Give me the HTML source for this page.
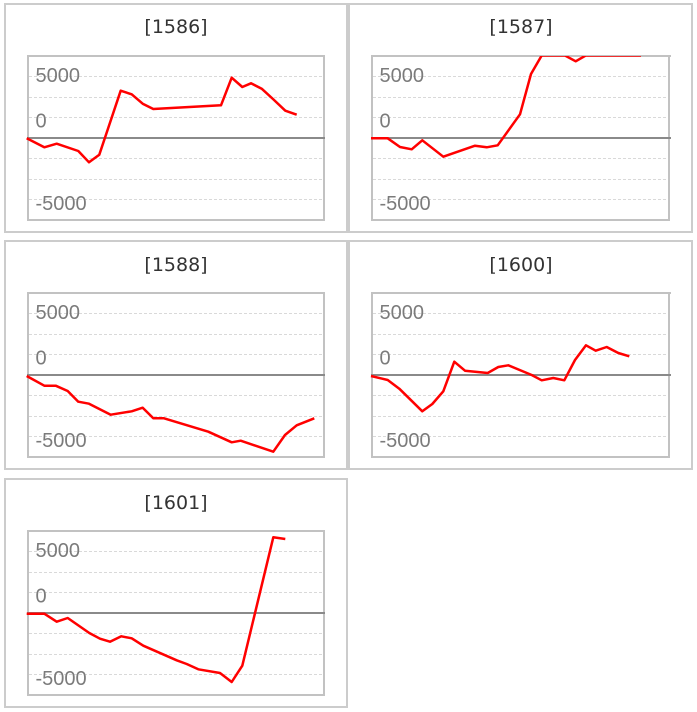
<!DOCTYPE html>
<html><head><meta charset="utf-8"><style>
html,body{margin:0;padding:0;background:#fff;}
svg{display:block;}
.ttl{font-family:"DejaVu Sans","Liberation Sans",sans-serif;font-size:19px;fill:#333;text-anchor:middle;}
.lbl{font-family:"Liberation Sans",sans-serif;font-size:20px;fill:#7b7b7b;}
.grid{stroke:#d9d9d9;stroke-width:1;stroke-dasharray:3,2;}
.ax{stroke:#8a8a8a;stroke-width:2;}
.pan{fill:none;stroke:#cccccc;stroke-width:2;}
.box{fill:none;stroke:#c2c2c2;stroke-width:2;}
.ser{fill:none;stroke:#ff0000;stroke-width:2.5;stroke-linejoin:round;}
</style></head><body>
<svg width="697" height="712" viewBox="0 0 697 712" xmlns="http://www.w3.org/2000/svg">
<defs>
<g id="fl">
<rect class="pan" x="5" y="4" width="342" height="228"/>
<line class="grid" x1="29" x2="323" y1="76.5" y2="76.5"/>
<line class="grid" x1="29" x2="323" y1="97.5" y2="97.5"/>
<line class="grid" x1="29" x2="323" y1="117.5" y2="117.5"/>
<line class="grid" x1="29" x2="323" y1="158.5" y2="158.5"/>
<line class="grid" x1="29" x2="323" y1="179.5" y2="179.5"/>
<line class="grid" x1="29" x2="323" y1="199.5" y2="199.5"/>
<rect class="box" x="28" y="56" width="296" height="164"/>
<line class="ax" x1="27" x2="325" y1="138" y2="138"/>
<text class="lbl" x="35.5" y="82">5000</text>
<text class="lbl" x="35.5" y="127.5">0</text>
<text class="lbl" x="35.5" y="210">-5000</text>
</g>
<g id="fr">
<rect class="pan" x="349" y="4" width="343" height="228"/>
<line class="grid" x1="373" x2="667" y1="76.5" y2="76.5"/>
<line class="grid" x1="373" x2="667" y1="97.5" y2="97.5"/>
<line class="grid" x1="373" x2="667" y1="117.5" y2="117.5"/>
<line class="grid" x1="373" x2="667" y1="158.5" y2="158.5"/>
<line class="grid" x1="373" x2="667" y1="179.5" y2="179.5"/>
<line class="grid" x1="373" x2="667" y1="199.5" y2="199.5"/>
<rect class="box" x="372" y="56" width="297" height="164"/>
<line class="box" x1="668" x2="671" y1="56" y2="56"/>
<line class="ax" x1="371" x2="671" y1="138" y2="138"/>
<text class="lbl" x="379.5" y="82">5000</text>
<text class="lbl" x="379.5" y="127.5">0</text>
<text class="lbl" x="379.5" y="210">-5000</text>
</g>
<clipPath id="c2"><rect x="360" y="56" width="320" height="170"/></clipPath>
</defs>

<!-- Row 1 -->
<use href="#fl"/>
<use href="#fr"/>
<text class="ttl" x="176" y="33">[1586]</text>
<text class="ttl" x="521" y="33">[1587]</text>
<polyline class="ser" points="26.7,138.3 44.3,147.3 56.7,143.7 78.3,151 89,162.3 99.3,154.7 120.7,90.7 131.7,94.3 142.7,103.7 153.3,109 221,105.3 231.7,77.7 242.3,87 251,83.3 261.7,88.7 273.5,99.5 285.3,110.7 296.7,114.7"/>
<polyline class="ser" clip-path="url(#c2)" points="371,138.3 387.7,138.3 400,147 411.7,149.3 422.3,140.3 443.3,156.7 475,145.7 486.7,147.3 497.7,145.3 520,114.3 531,74 541.7,55.5 565,55.5 575.7,61.3 585.7,55.5 641,55.5"/>

<!-- Row 2 -->
<g transform="translate(0,237)">
<use href="#fl"/>
<use href="#fr"/>
<text class="ttl" x="176" y="34">[1588]</text>
<text class="ttl" x="521" y="34">[1600]</text>
</g>
<polyline class="ser" points="26.7,376 44.3,385.7 55.7,385.7 67.7,391 78.3,401.7 89,403.7 110.7,414.7 131.7,411.3 142.7,407.7 153.3,418.3 164,418.3 208.3,431.7 231.7,442.3 240.7,440.7 273.3,451.7 285,435 296.7,425.3 314.3,418.3"/>
<polyline class="ser" points="371,376 387.7,380 399.3,388.7 422.3,411.3 432.3,404 443.3,391.3 454.3,361.7 465,370.7 487.7,373 498.3,367 508.3,365.3 531.7,375 541.7,380.3 553.3,378 564.3,380.3 575,360 586,345.3 595.7,350.7 606.7,347 618.3,353 629.3,356.3"/>

<!-- Row 3 -->
<g transform="translate(0,475)">
<use href="#fl"/>
<text class="ttl" x="176" y="34">[1601]</text>
</g>
<polyline class="ser" points="26.7,613.7 44.3,613.7 56.7,621.7 67.7,618 89.3,633 100,638.7 110,641.7 121.3,636.3 131.7,638.3 143.3,645.7 176.7,660.3 186.7,664 198.3,669.3 220,673 231.7,682 242.3,665.7 273.3,537.3 285.3,539"/>
</svg>
</body></html>
